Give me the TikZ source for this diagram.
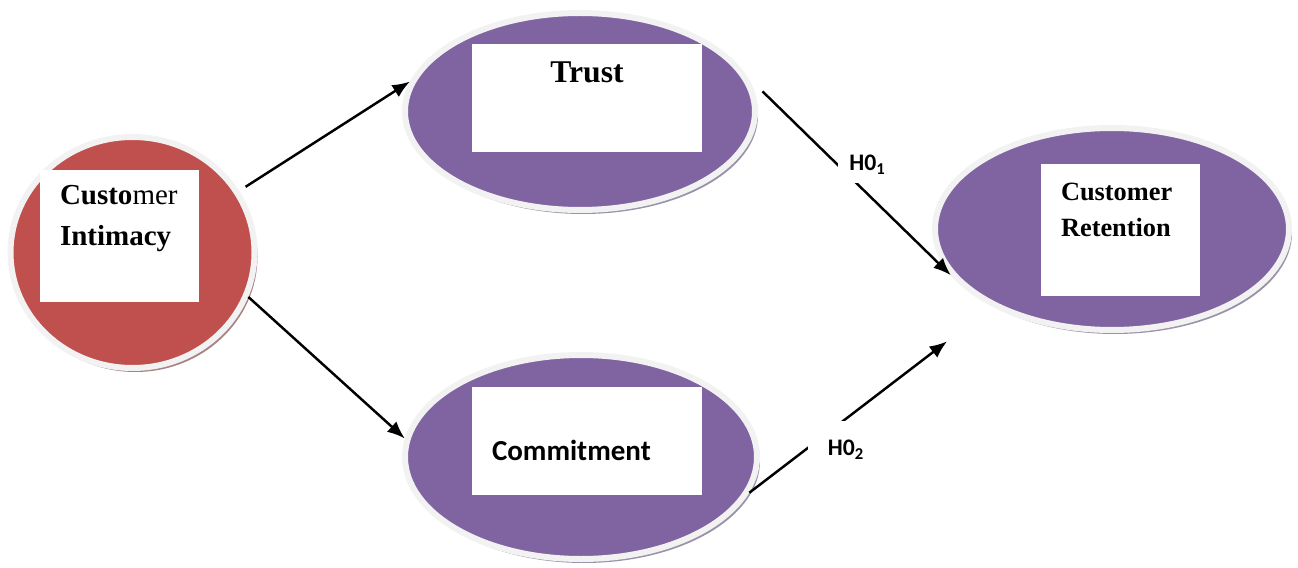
\documentclass[tikz,border=0pt]{standalone}
\usepackage{fontspec}
\setmainfont{Liberation Serif}
\newfontfamily\calibri{Carlito}
\usepackage{tikz}
\usetikzlibrary{shapes.geometric,shadows,positioning,arrows.meta}
\definecolor{intimred}{HTML}{C0504D}
\definecolor{ovalviolet}{HTML}{8064A2}
\definecolor{ringgrey}{HTML}{F2F2F2}
\definecolor{redshade}{HTML}{A88284}
\definecolor{violetshade}{HTML}{9A92AA}
\tikzstyle{oval}=[ellipse,draw=ringgrey,line width=0.12cm,inner sep=0pt]
\tikzstyle{redoval}=[oval,fill=intimred,drop shadow={shadow xshift=0.06cm,shadow yshift=-0.08cm,fill=redshade,opacity=1}]
\tikzstyle{violetoval}=[oval,fill=ovalviolet,drop shadow={shadow xshift=0.06cm,shadow yshift=-0.08cm,fill=violetshade,opacity=1}]
\tikzstyle{whitebox}=[rectangle,fill=white,inner sep=0pt]
\tikzstyle{texto}=[inner sep=0pt,anchor=north west,align=left]
\tikzstyle{hyp}=[fill=white,inner sep=0pt,font=\calibri\bfseries\fontsize{13.5}{15}\selectfont]
\tikzstyle{link}=[line width=1.4pt,-{Latex[length=10pt,width=8pt]}]

\begin{document}
\begin{tikzpicture}[thick]
    \useasboundingbox (0,0) rectangle (25.96,11.34);
    \node [redoval, minimum width=4.88cm, minimum height=4.62cm] (intim) at (2.65,6.29) {};
    \node [violetoval, minimum width=7cm, minimum height=3.94cm] (trust) at (11.6,9.11) {};
    \node [violetoval, minimum width=7.04cm, minimum height=4.08cm] (comm) at (11.62,2.2) {};
    \node [violetoval, minimum width=7.08cm, minimum height=4.04cm] (ret) at (22.24,6.76) {};
    \node [whitebox, minimum width=3.18cm, minimum height=2.64cm] (intimbox) at (2.39,6.62) {};
    \node [whitebox, minimum width=4.6cm, minimum height=2.16cm] (trustbox) at (11.74,9.38) {};
    \node [whitebox, minimum width=4.6cm, minimum height=2.16cm] (commbox) at (11.74,2.52) {};
    \node [whitebox, minimum width=3.18cm, minimum height=2.64cm] (retbox) at (22.41,6.74) {};
    \node [texto, font=\fontsize{16.5}{23.5}\selectfont, below right=0.3cm and 0.4cm of intimbox.north west] (intimtext) {{\bfseries Custo}mer\\\bfseries Intimacy};
    \node [texto, anchor=north, font=\bfseries\fontsize{18}{21}\selectfont, below=0.36cm of trustbox.north] (trusttext) {Trust};
    \node [texto, font=\calibri\bfseries\fontsize{16.5}{19}\selectfont, below right=1.06cm and 0.4cm of commbox.north west] (commtext) {Commitment};
    \node [texto, font=\bfseries\fontsize{15}{20.5}\selectfont, below right=0.38cm and 0.4cm of retbox.north west] (rettext) {Customer\\Retention};
    \draw [link, shorten <=0.15cm] (intim.30) -- (trust.170);
    \draw [link] (intim.-21) -- (comm.174);
    \draw [link, shorten <=0.44cm] (trust.12) -- (ret.196);
    \draw [link, shorten >=1.14cm] (comm.-12) -- (ret.213);
    \node [hyp, minimum width=1.2cm, minimum height=0.72cm] (h1) at (17.35,8.04) {H0\textsubscript{1}};
    \node [hyp, minimum width=1.52cm, minimum height=1.16cm] (h2) at (16.92,2.34) {H0\textsubscript{2}};
\end{tikzpicture}
\end{document}
